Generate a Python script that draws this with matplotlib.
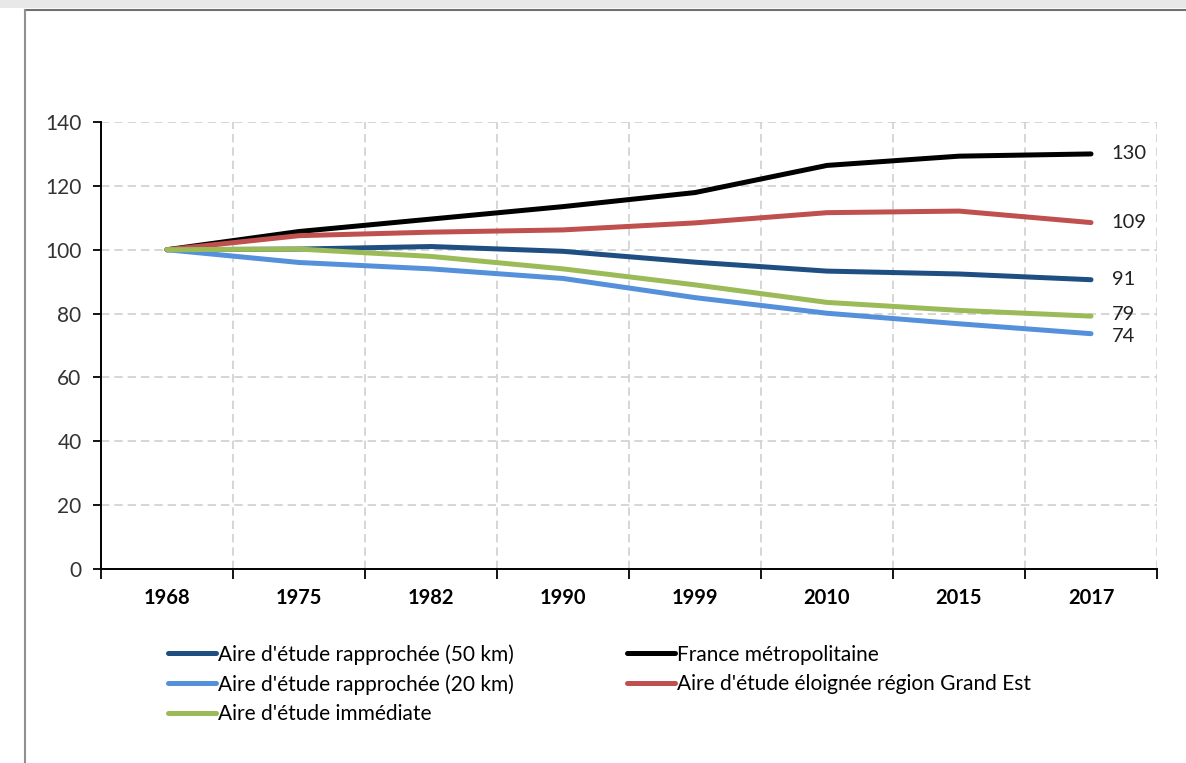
import matplotlib
matplotlib.use('Agg')
import matplotlib.pyplot as plt
import numpy as np
from matplotlib.lines import Line2D
from matplotlib.patches import Rectangle

plt.rcParams['font.family'] = ['Lato', 'DejaVu Sans']

years = ['1968', '1975', '1982', '1990', '1999', '2010', '2015', '2017']

# base 100 in 1968
rapprochee_50 = [100, 100.2, 101.0, 99.5, 96.1, 93.3, 92.4, 90.6]
france = [100, 105.7, 109.6, 113.5, 117.9, 126.4, 129.3, 130.0]
rapprochee_20 = [100, 96.0, 94.0, 91.0, 85.0, 80.1, 76.8, 73.7]
grand_est = [100, 104.4, 105.5, 106.2, 108.4, 111.6, 112.1, 108.5]
immediate = [100, 100.2, 97.9, 94.0, 89.0, 83.5, 81.0, 79.2]

names = ["Aire d'étude rapprochée (50 km)", "France métropolitaine",
         "Aire d'étude rapprochée (20 km)", "Aire d'étude éloignée région Grand Est",
         "Aire d'étude immédiate"]
end_labels = ['91', '130', '74', '109', '79']
colors = ['#1f4e82', '#000000', '#5590db', '#c0504d', '#9bbb59']
series = [rapprochee_50, france, rapprochee_20, grand_est, immediate]
label_nudge = [0, 0, -2, 0, 1]  # keep 79 / 74 apart

fig = plt.figure(figsize=(11.86, 7.63), dpi=100)
ax = fig.add_axes([101/1186, 1-569/763, 1056/1186, 447/763])

x = np.arange(len(years))
handles = []
for vals, name, col, lab, dy in zip(series, names, colors, end_labels, label_nudge):
    h, = ax.plot(x, vals, color=col, lw=3.6, solid_capstyle='round', label=name)
    handles.append(h)
    ax.annotate(lab, (x[-1], vals[-1]), xytext=(15, dy), textcoords='offset points',
                va='center', ha='left', fontsize=14.5, color='#222222')

ax.set_xlim(-0.5, 7.5)
ax.set_ylim(0, 140)
ax.set_yticks(np.arange(0, 141, 20))
ax.set_xticks(np.arange(-0.5, 8, 1))
ax.set_xticklabels([])
ax.set_xticks(x, minor=True)
ax.set_xticklabels(years, minor=True, fontweight='bold', fontsize=14.5)
ax.tick_params(axis='x', which='minor', length=0, pad=14)
ax.tick_params(axis='x', which='major', length=7, width=1.3, direction='out')
ax.tick_params(axis='y', length=6, width=1.3, pad=8, labelsize=15, labelcolor='#333333')

for s in ['top', 'right']:
    ax.spines[s].set_visible(False)
for s in ['left', 'bottom']:
    ax.spines[s].set_linewidth(1.4)

for yv in range(20, 141, 20):
    ax.axhline(yv, color='#d0d0d0', lw=1.2, ls=(0, (5, 3)), zorder=0)
for xv in np.arange(0.5, 8, 1):
    ax.axvline(xv, color='#d0d0d0', lw=1.2, ls=(0, (5, 3)), zorder=0)

order = [0, 2, 4, 1, 3]
fig.legend([handles[i] for i in order], [names[i] for i in order], ncol=2,
           loc='upper left', bbox_to_anchor=(168/1186, 1-644/763), frameon=False,
           fontsize=15, handlelength=2.3, handletextpad=0.1, columnspacing=5.45,
           labelspacing=0.45, borderpad=0, borderaxespad=0)

# page frame
fig.add_artist(Rectangle((0, 1-8/763), 1, 8/763, transform=fig.transFigure,
                         color='#e8e8e8', lw=0))
fig.add_artist(Line2D([25/1186, 1], [1-10/763, 1-10/763], transform=fig.transFigure,
                      color='#707070', lw=1.5))
fig.add_artist(Line2D([25/1186, 25/1186], [0, 1-10/763], transform=fig.transFigure,
                      color='#909090', lw=1.5))

plt.savefig('out.png', dpi=100)
